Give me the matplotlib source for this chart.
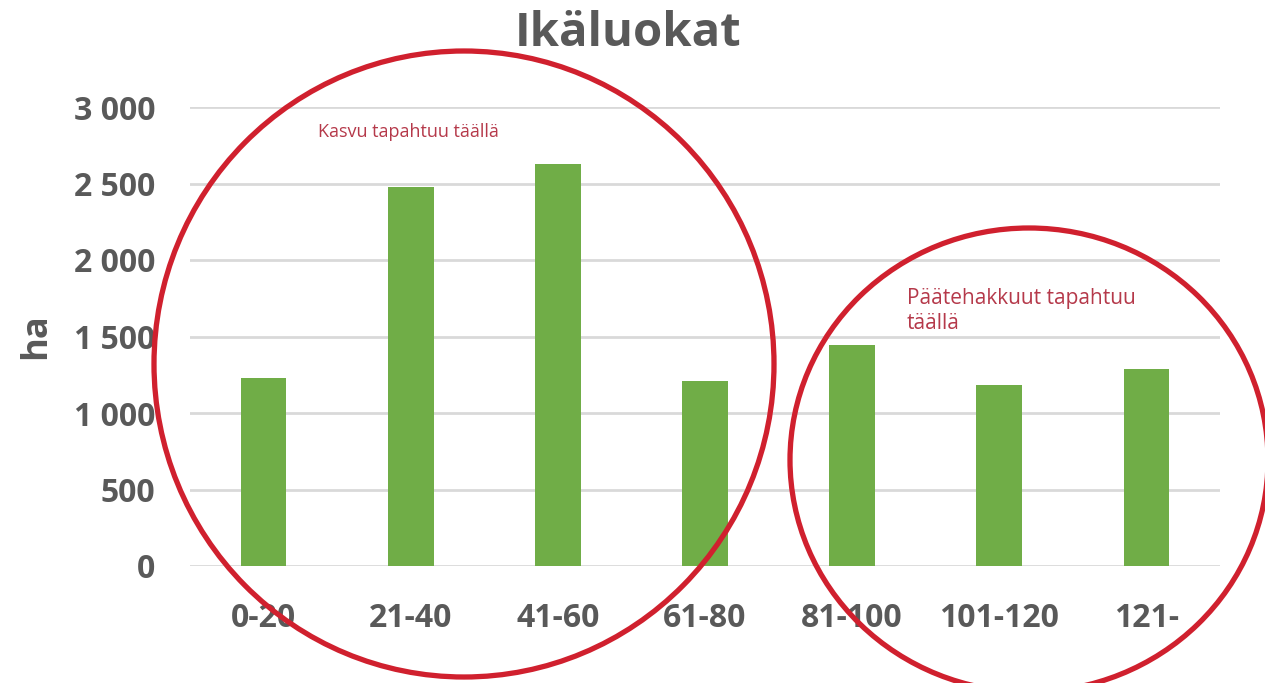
import matplotlib.pyplot as plt
from matplotlib.patches import Ellipse
from matplotlib.ticker import FuncFormatter

# data
categories = ["0-20", "21-40", "41-60", "61-80", "81-100", "101-120", "121-"]
hectares = [1230, 2476, 2626, 1212, 1442, 1182, 1289]
y_ticks = [0, 500, 1000, 1500, 2000, 2500, 3000]

grey = "#595959"
bar_green = "#70AD47"
circle_red = "#D0202E"
note_red = "#B5394A"
font = "Open Sans"

fig = plt.figure(figsize=(12.65, 6.83), dpi=100)
ax = fig.add_axes([190/1265, 1 - 566/683, 1030/1265, (566 - 107)/683])

x = range(len(categories))
ax.bar(x, hectares, width=0.31, color=bar_green, zorder=3)

ax.set_xlim(-0.5, len(categories) - 0.5)
ax.set_ylim(0, 3000)
ax.set_yticks(y_ticks)
ax.yaxis.set_major_formatter(FuncFormatter(lambda v, p: f"{int(v):,}".replace(",", " ")))
ax.set_xticks(list(x))
ax.set_xticklabels(categories)

ax.grid(axis="y", color="#D9D9D9", linewidth=2, zorder=0)
for s in ax.spines.values():
    s.set_visible(False)
ax.tick_params(axis="both", length=0, labelsize=23, labelcolor=grey)
ax.tick_params(axis="x", pad=26)
ax.tick_params(axis="y", pad=25)
for lab in ax.get_xticklabels() + ax.get_yticklabels():
    lab.set_fontweight("bold")
    lab.set_family(font)

ax.set_ylabel("ha", fontsize=26, fontweight="bold", color=grey, family=font, labelpad=14)
fig.text(628/1265, 1 - 33/683, "Ikäluokat", ha="center", va="center",
         fontsize=34, fontweight="bold", color=grey, family=font)

# notes
fig.text(318/1265, 1 - 132/683, "Kasvu tapahtuu täällä", ha="left", va="center",
         fontsize=13, color=note_red, family=font)
fig.text(907/1265, 1 - 311/683, "Päätehakkuut tapahtuu\ntäällä", ha="left", va="center",
         fontsize=15, color=note_red, family=font, linespacing=1.3)

# hand drawn circles
for cx, cy, w, h in [(464, 364, 620, 626), (1029, 460, 478, 464)]:
    e = Ellipse((cx/1265, 1 - cy/683), w/1265, h/683, transform=fig.transFigure,
                fill=False, edgecolor=circle_red, linewidth=3.8, zorder=10)
    fig.add_artist(e)

fig.savefig("out.png", dpi=100)
